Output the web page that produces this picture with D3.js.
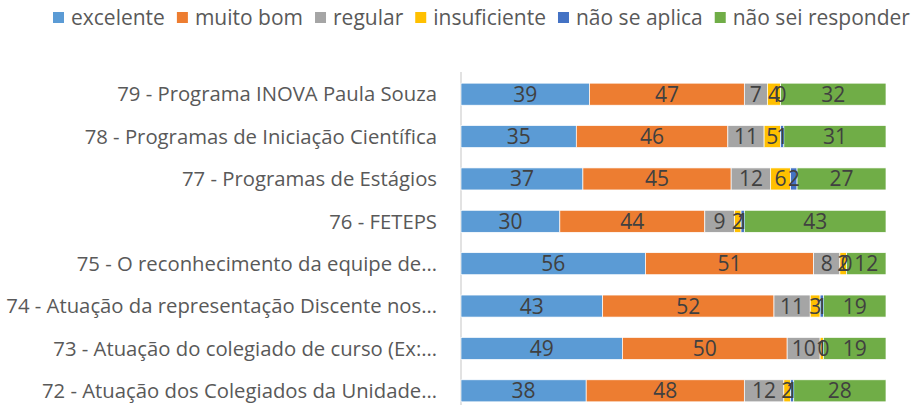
<!DOCTYPE html>
<html>
<head>
<meta charset="utf-8">
<script src="https://cdn.jsdelivr.net/npm/d3@7"></script>
<style>
  body { margin: 0; background: #fff; }
  svg { font-family: "Open Sans", sans-serif; }
</style>
</head>
<body>
<div id="chart"></div>
<script>
const categories = [
  "79 - Programa INOVA Paula Souza",
  "78 - Programas de Iniciação Científica",
  "77 - Programas de Estágios",
  "76 - FETEPS",
  "75 - O reconhecimento da equipe de…",
  "74 - Atuação da representação Discente nos…",
  "73 - Atuação do colegiado de curso (Ex:…",
  "72 - Atuação dos Colegiados da Unidade…"
];
const seriesNames = ["excelente", "muito bom", "regular", "insuficiente", "não se aplica", "não sei responder"];
const colors = ["#5B9BD5", "#ED7D31", "#A5A5A5", "#FFC000", "#4472C4", "#70AD47"];

const excelente   = [39, 35, 37, 30, 56, 43, 49, 38];
const muitoBom    = [47, 46, 45, 44, 51, 52, 50, 48];
const regular     = [7, 11, 12, 9, 8, 11, 10, 12];
const insuficiente = [4, 5, 6, 2, 2, 3, 1, 2];
const naoSeAplica = [0, 1, 2, 1, 0, 1, 0, 1];
const naoSei      = [32, 31, 27, 43, 12, 19, 19, 28];

const seriesValues = [excelente, muitoBom, regular, insuficiente, naoSeAplica, naoSei];

const w = 911, h = 405;
const rows = categories.map((c, i) => {
  const r = { cat: c };
  seriesNames.forEach((s, j) => r[s] = seriesValues[j][i]);
  return r;
});

const stack = d3.stack().keys(seriesNames).offset(d3.stackOffsetExpand);
const layers = stack(rows);

const x = d3.scaleLinear().domain([0, 1]).range([461, 886]);
const y = d3.scaleBand().domain(categories).range([73, 412]).paddingInner(0.48).paddingOuter(0.24);

const svg = d3.select("#chart").append("svg").attr("width", w).attr("height", h);

// axis line
svg.append("line")
  .attr("x1", x(0)).attr("x2", x(0))
  .attr("y1", 72).attr("y2", h)
  .attr("stroke", "#d9d9d9").attr("stroke-width", 1.5);

// bars
const g = svg.append("g").selectAll("g")
  .data(layers).enter().append("g")
  .attr("fill", (d, i) => colors[i]);

g.selectAll("rect")
  .data(d => d.map(p => ({ p: p, key: d.key })))
  .enter().append("rect")
  .attr("x", d => x(d.p[0]))
  .attr("y", d => y(d.p.data.cat))
  .attr("width", d => Math.max(0, x(d.p[1]) - x(d.p[0])))
  .attr("height", y.bandwidth())
  .attr("stroke", "#fff").attr("stroke-width", 0.7);

// data labels
svg.append("g").selectAll("g")
  .data(layers).enter().append("g")
  .selectAll("text")
  .data(d => d.map(p => ({ p: p, key: d.key })))
  .enter().append("text")
  .attr("x", d => (x(d.p[0]) + x(d.p[1])) / 2)
  .attr("y", d => y(d.p.data.cat) + y.bandwidth() / 2)
  .attr("dy", "0.36em")
  .attr("text-anchor", "middle")
  .attr("font-size", 21)
  .attr("fill", "#404040")
  .text(d => d.p.data[d.key]);

// category labels
svg.append("g").selectAll("text")
  .data(categories).enter().append("text")
  .attr("x", 437)
  .attr("y", d => y(d) + y.bandwidth() / 2)
  .attr("dy", "0.36em")
  .attr("text-anchor", "end")
  .attr("font-size", 20.3)
  .attr("fill", "#595959")
  .text(d => d);

// legend
const legend = svg.append("g").attr("transform", "translate(53,17)");
let lx = 0;
seriesNames.forEach((s, i) => {
  const it = legend.append("g").attr("transform", `translate(${lx},0)`);
  it.append("rect").attr("x", 0).attr("y", -5).attr("width", 11).attr("height", 11).attr("fill", colors[i]);
  const t = it.append("text").attr("x", 18).attr("dy", "0.36em")
    .attr("font-size", 21).attr("fill", "#595959").text(s);
  lx += 18 + t.node().getComputedTextLength() + 12;
});
</script>
</body>
</html>
